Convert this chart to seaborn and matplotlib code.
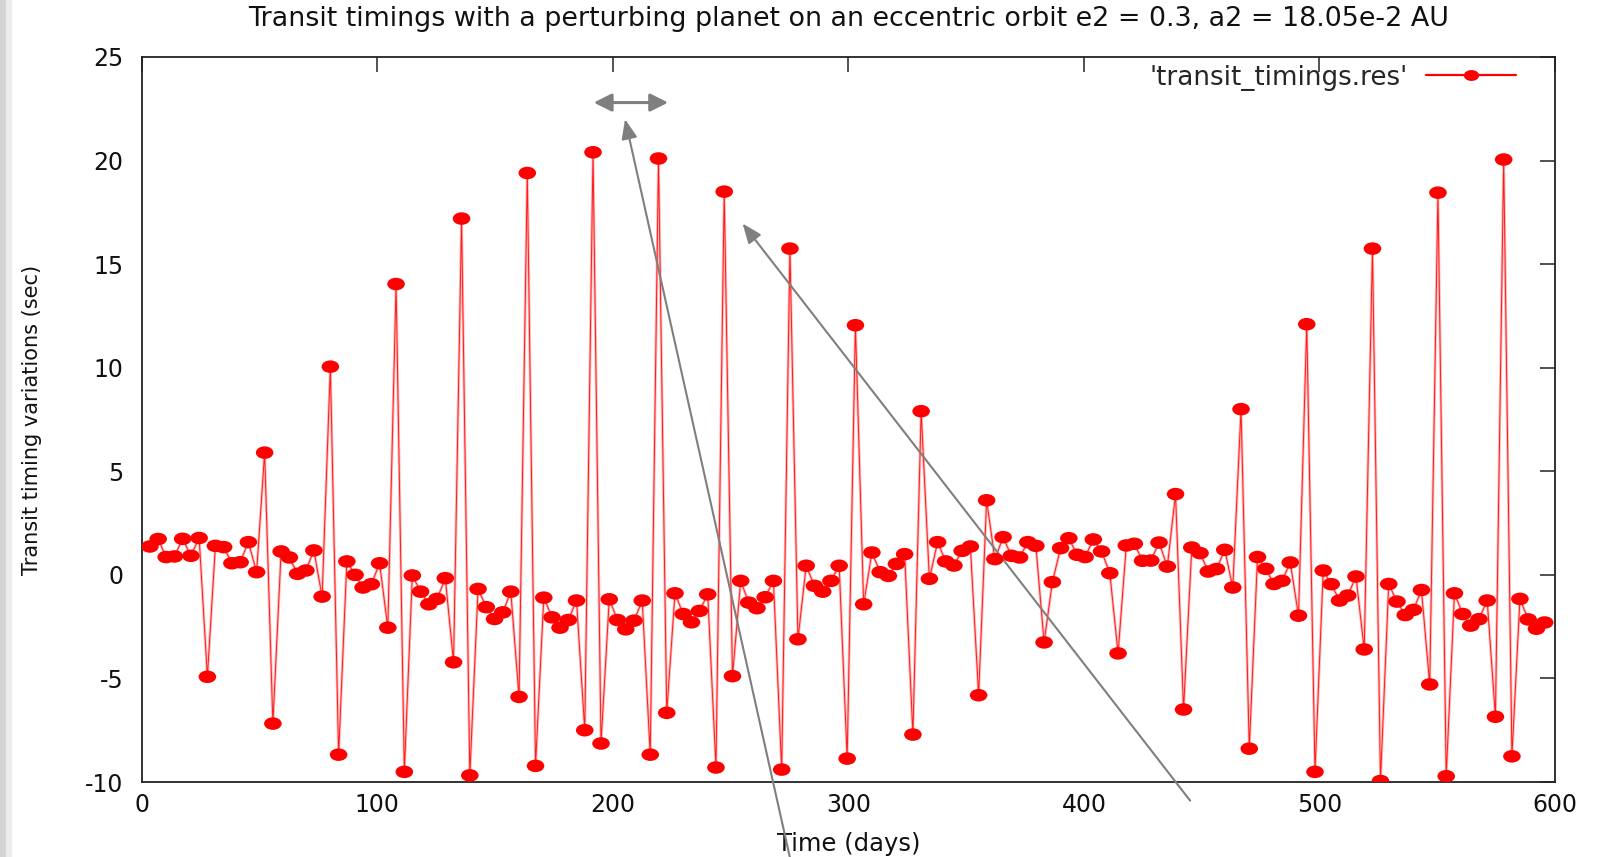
import matplotlib
matplotlib.use("Agg")
import matplotlib.pyplot as plt
import seaborn as sns
import pandas as pd
from matplotlib.path import Path
from matplotlib.transforms import Affine2D
from matplotlib.lines import Line2D
from matplotlib.patches import Rectangle

# ---------------- data ----------------
time_days = [
    3.5, 7.0, 10.4, 13.9, 17.4, 20.9, 24.4, 27.9, 31.3, 34.8,
    38.3, 41.8, 45.3, 48.8, 52.2, 55.7, 59.2, 62.7, 66.2, 69.7,
    73.1, 76.6, 80.1, 83.6, 87.1, 90.6, 94.0, 97.5, 101.0, 104.5,
    108.0, 111.5, 114.9, 118.4, 121.9, 125.4, 128.9, 132.4, 135.8, 139.3,
    142.8, 146.3, 149.8, 153.3, 156.7, 160.2, 163.7, 167.2, 170.7, 174.2,
    177.6, 181.1, 184.6, 188.1, 191.6, 195.0, 198.5, 202.0, 205.5, 209.0,
    212.5, 215.9, 219.4, 222.9, 226.4, 229.9, 233.4, 236.8, 240.3, 243.8,
    247.3, 250.8, 254.3, 257.7, 261.2, 264.7, 268.2, 271.7, 275.2, 278.6,
    282.1, 285.6, 289.1, 292.6, 296.1, 299.5, 303.0, 306.5, 310.0, 313.5,
    317.0, 320.4, 323.9, 327.4, 330.9, 334.4, 337.9, 341.3, 344.8, 348.3,
    351.8, 355.3, 358.7, 362.2, 365.7, 369.2, 372.7, 376.2, 379.6, 383.1,
    386.6, 390.1, 393.6, 397.1, 400.5, 404.0, 407.5, 411.0, 414.5, 418.0,
    421.4, 424.9, 428.4, 431.9, 435.4, 438.9, 442.3, 445.8, 449.3, 452.8,
    456.3, 459.8, 463.2, 466.7, 470.2, 473.7, 477.2, 480.7, 484.1, 487.6,
    491.1, 494.6, 498.1, 501.6, 505.0, 508.5, 512.0, 515.5, 519.0, 522.5,
    525.9, 529.4, 532.9, 536.4, 539.9, 543.3, 546.8, 550.3, 553.8, 557.3,
    560.8, 564.2, 567.7, 571.2, 574.7, 578.2, 581.7, 585.1, 588.6, 592.1,
    595.6,
]

ttv_sec = [
    1.37, 1.73, 0.86, 0.89, 1.74, 0.92, 1.78, -4.92, 1.40, 1.34,
    0.56, 0.61, 1.58, 0.13, 5.90, -7.18, 1.13, 0.84, 0.05, 0.21,
    1.18, -1.05, 10.05, -8.68, 0.65, 0.00, -0.61, -0.45, 0.56, -2.55,
    14.04, -9.51, -0.03, -0.81, -1.42, -1.16, -0.16, -4.22, 17.20, -9.68,
    -0.68, -1.56, -2.13, -1.81, -0.81, -5.89, 19.40, -9.22, -1.10, -2.05,
    -2.55, -2.18, -1.24, -7.50, 20.40, -8.14, -1.18, -2.18, -2.63, -2.21,
    -1.24, -8.68, 20.10, -6.66, -0.89, -1.89, -2.29, -1.74, -0.94, -9.30,
    18.50, -4.89, -0.29, -1.34, -1.61, -1.08, -0.29, -9.40, 15.75, -3.11,
    0.44, -0.53, -0.81, -0.29, 0.44, -8.87, 12.05, -1.42, 1.08, 0.13,
    -0.05, 0.53, 1.00, -7.71, 7.90, -0.19, 1.58, 0.65, 0.45, 1.16,
    1.37, -5.81, 3.60, 0.76, 1.82, 0.92, 0.84, 1.58, 1.40, -3.26,
    -0.35, 1.29, 1.77, 0.97, 0.86, 1.71, 1.13, 0.08, -3.79, 1.42,
    1.50, 0.68, 0.69, 1.56, 0.40, 3.90, -6.50, 1.32, 1.05, 0.16,
    0.28, 1.21, -0.61, 8.00, -8.39, 0.86, 0.29, -0.44, -0.29, 0.60,
    -1.97, 12.10, -9.51, 0.21, -0.45, -1.24, -1.00, -0.08, -3.60, 15.75,
    -9.95, -0.44, -1.29, -1.94, -1.69, -0.73, -5.29, 18.45, -9.72, -0.89,
    -1.89, -2.45, -2.14, -1.24, -6.85, 20.05, -8.76, -1.16, -2.15, -2.60,
    -2.30,
]

x_ticks = [0, 100, 200, 300, 400, 500, 600]
y_ticks = [-10, -5, 0, 5, 10, 15, 20, 25]

title_text = "Transit timings with a perturbing planet on an eccentric orbit e2 = 0.3, a2 = 18.05e-2 AU"
x_label = "Time (days)"
y_label = "Transit timing variations (sec)"
series_label = "'transit_timings.res'"

df = pd.DataFrame({"time": time_days, "ttv": ttv_sec})

# ---------------- style ----------------
sns.set_theme(style="white")
plt.rcParams["font.family"] = ["DejaVu Sans"]

fig = plt.figure(figsize=(15.99, 8.57), dpi=100)
fig.patch.set_facecolor("white")
fig.patches.append(Rectangle((0, 0), 0.004, 1, transform=fig.transFigure,
                             color="#d4d4d4", zorder=0))
fig.patches.append(Rectangle((0.004, 0), 0.003, 1, transform=fig.transFigure,
                             color="#ececec", zorder=0))

ax = fig.add_axes([0.0886, 0.0875, 0.8839, 0.846])

# elliptical marker (reference markers are wider than tall)
ellipse = Affine2D().scale(1.4, 1.0).transform_path(Path.unit_circle())

sns.lineplot(data=df, x="time", y="ttv", ax=ax, color="#ff6060",
             linewidth=2.0, alpha=0.45, sort=False, legend=False, zorder=2)
sns.lineplot(data=df, x="time", y="ttv", ax=ax, color="#ff0000",
             linewidth=0.7, alpha=0.85, sort=False, legend=False, zorder=3)
sns.scatterplot(data=df, x="time", y="ttv", ax=ax, marker=ellipse, s=160,
                color="#ff0000", edgecolor="none", linewidth=0, zorder=4,
                legend=False)

ax.set_xlim(0, 600)
ax.set_ylim(-10, 25)
ax.set_xticks(x_ticks)
ax.set_yticks(y_ticks)
ax.set_xticklabels([str(v) for v in x_ticks])
ax.set_yticklabels([str(v) for v in y_ticks])

for sp in ax.spines.values():
    sp.set_visible(True)
    sp.set_color("#222222")
    sp.set_linewidth(1.3)

ax.tick_params(axis="both", direction="in", length=11, width=1.1,
               color="#222222", labelsize=17, labelcolor="#111111",
               top=True, right=True)
ax.tick_params(axis="y", pad=13)
ax.tick_params(axis="x", pad=8)

ax.set_xlabel(x_label, fontsize=17.5, color="#111111", labelpad=11)
ax.set_ylabel(y_label, fontsize=15, color="#111111", labelpad=31)
ax.set_title(title_text, fontsize=19.4, color="#111111", pad=22)

handle = Line2D([0], [0], color="#ff0000", linewidth=1.6, marker=ellipse,
                markersize=11, markeredgewidth=0, markerfacecolor="#ff0000")
ax.legend([handle], [series_label], loc="center right",
          bbox_to_anchor=(0.9724, 0.9717), frameon=False, markerfirst=False,
          fontsize=18.8, handlelength=3.45, handletextpad=0.7, borderpad=0,
          borderaxespad=0)

# ---------------- gray annotation arrows ----------------
arrow_color = "#7f7f7f"
ax.annotate("", xy=(223.5, 22.8), xytext=(191.9, 22.8),
            arrowprops=dict(arrowstyle="<|-|>,head_length=0.9,head_width=0.45",
                            color=arrow_color, lw=2.2, shrinkA=0, shrinkB=0),
            annotation_clip=False)
ax.annotate("", xy=(205.2, 22.0), xytext=(275.5, -13.8),
            arrowprops=dict(arrowstyle="-|>,head_length=1.0,head_width=0.4",
                            color=arrow_color, lw=1.5, shrinkA=0, shrinkB=0),
            annotation_clip=False)
ax.annotate("", xy=(255.1, 16.96), xytext=(445.1, -10.9),
            arrowprops=dict(arrowstyle="-|>,head_length=1.0,head_width=0.4",
                            color=arrow_color, lw=1.5, shrinkA=0, shrinkB=0),
            annotation_clip=False)

fig.savefig("out.png", dpi=100)
